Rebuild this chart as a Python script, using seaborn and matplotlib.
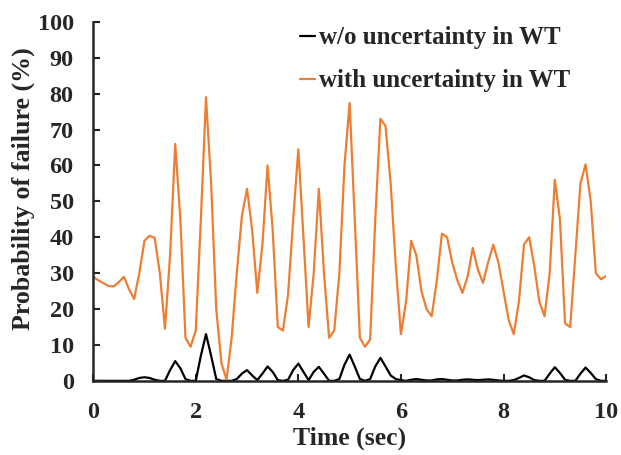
import seaborn as sns
import matplotlib.pyplot as plt
import numpy as np
import pandas as pd

# time axis (sec), 0.1 s steps
time = [round(0.1 * i, 1) for i in range(101)]

# with uncertainty in WT (%)
p_with = [29.0, 28.0, 27.2, 26.4, 26.3, 27.5, 29.0, 25.5, 22.8, 30.0,
          39.0, 40.4, 39.8, 30.0, 14.5, 35.0, 66.0, 45.0, 12.0, 9.5,
          14.0, 45.0, 79.0, 55.0, 20.0, 5.0, 0.3, 12.0, 30.0, 46.0,
          53.5, 42.0, 24.5, 38.0, 60.0, 42.0, 15.0, 14.0, 24.0, 45.0,
          64.5, 40.0, 15.0, 30.0, 53.5, 30.0, 12.0, 14.0, 30.0, 60.0,
          77.4, 45.0, 12.0, 9.5, 11.5, 45.0, 73.0, 71.0, 55.0, 32.0,
          13.0, 22.0, 39.0, 35.0, 25.0, 20.0, 18.0, 28.0, 41.0, 40.0,
          33.0, 28.0, 24.5, 29.0, 37.0, 31.0, 27.3, 33.0, 37.9, 33.0,
          25.0, 17.0, 13.0, 22.0, 38.0, 40.0, 32.0, 22.0, 18.0, 30.0,
          56.0, 45.0, 16.0, 15.0, 35.0, 55.0, 60.3, 50.0, 30.0, 28.3,
          29.2]

# w/o uncertainty in WT (%)
p_without = [0, 0, 0, 0, 0, 0, 0, 0, 0.3, 0.8,
             1.0, 0.8, 0.3, 0, 0, 3.0, 5.5, 3.5, 0.5, 0,
             0, 7.0, 13.0, 7.0, 0.5, 0, 0, 0, 0.5, 2.0,
             3.0, 1.5, 0.2, 2.0, 4.0, 2.5, 0.2, 0, 0.3, 3.0,
             4.8, 2.5, 0.2, 2.5, 3.9, 2.0, 0, 0, 0.5, 4.5,
             7.3, 4.0, 0.5, 0, 0.5, 4.0, 6.4, 4.0, 1.5, 0.5,
             0.2, 0, 0.3, 0.5, 0.3, 0.1, 0.1, 0.4, 0.5, 0.3,
             0.1, 0.1, 0.3, 0.4, 0.3, 0.2, 0.3, 0.4, 0.3, 0.1,
             0, 0, 0.2, 0.8, 1.5, 1.0, 0.2, 0, 0, 2.0,
             3.8, 2.2, 0.3, 0, 0, 2.0, 3.7, 2.2, 0.5, 0,
             0]

lab_wo = "w/o uncertainty in WT"
lab_w = "with uncertainty in WT"

df = pd.DataFrame({
    "t": time * 2,
    "p": p_without + p_with,
    "case": [lab_wo] * len(time) + [lab_w] * len(time),
})

sns.set_style("ticks")
plt.rcParams['font.family'] = ['Liberation Serif', 'DejaVu Serif']
plt.rcParams['font.weight'] = 'bold'

fig = plt.figure(figsize=(6.21, 4.55), dpi=100)
ax = fig.add_axes([0.150, 0.163, 0.826, 0.789])

sns.lineplot(data=df, x="t", y="p", hue="case",
             palette={lab_wo: "black", lab_w: "#ED7D31"},
             linewidth=1.6, ax=ax)
for ln in ax.get_lines():
    ln.set_solid_joinstyle("round")

ax.set_xlim(0, 10)
ax.set_ylim(0, 100)
ax.set_xticks([0, 2, 4, 6, 8, 10])
ax.set_yticks(np.arange(0, 101, 10))
ax.tick_params(direction="in", length=5, width=1.5, labelsize=17.5)
ax.tick_params(axis="y", pad=14)
ax.tick_params(axis="x", pad=15)
for lbl in ax.get_xticklabels() + ax.get_yticklabels():
    lbl.set_fontweight("bold")
for s in ["top", "right"]:
    ax.spines[s].set_visible(False)
for s in ["left", "bottom"]:
    ax.spines[s].set_linewidth(1.8)

ax.set_xlabel("Time (sec)", fontsize=18.5, fontweight="bold", labelpad=3)
ax.set_ylabel("Probability of failure (%)", fontsize=18.7, fontweight="bold")
ax.yaxis.set_label_coords(-0.114, 0.535)

leg = ax.legend(loc="upper left", bbox_to_anchor=(0.36, 1.05), frameon=False,
                handlelength=0.6, handletextpad=0.15, labelspacing=0.8,
                prop={"size": 18, "weight": "bold"})

fig.savefig("out.png", dpi=100)
